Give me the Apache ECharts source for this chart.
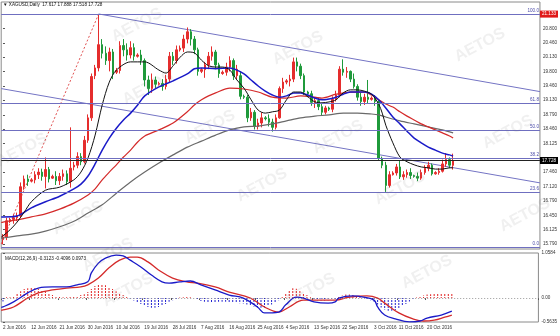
<!DOCTYPE html>
<html><head><meta charset="utf-8">
<script src="https://cdn.jsdelivr.net/npm/echarts@6/dist/echarts.min.js"></script>
<style>html,body{margin:0;padding:0;background:#fff}#c{width:560px;height:336px}</style>
</head><body><div id="c"></div>
<script>
// ---- data ----
const monthDays = {
  Jun:[2,3,5,6,7,8,9,10,12,13,14,15,16,17,19,20,21,22,23,24,26,27,28,29,30],
  Jul:[1,3,4,5,6,7,8,10,11,12,13,14,15,17,18,19,20,21,22,24,25,26,27,28,29,31],
  Aug:[1,2,3,4,5,7,8,9,10,11,12,14,15,16,17,18,19,21,22,23,24,25,26,28,29,30,31],
  Sep:[1,2,4,5,6,7,8,9,11,12,13,14,15,16,18,19,20,21,22,23,25,26,27,28,29,30],
  Oct:[2,3,4,5,6,7,9,10,11,12,13,14,16,17,18,19,20,21,23,24,25,26,27,28]
};
const labelDates = ['2 Jun 2016','12 Jun 2016','21 Jun 2016','30 Jun 2016','10 Jul 2016','19 Jul 2016','28 Jul 2016','7 Aug 2016','16 Aug 2016','25 Aug 2016','4 Sep 2016','13 Sep 2016','22 Sep 2016','3 Oct 2016','11 Oct 2016','20 Oct 2016'];
// [open, close, low, high]
const ohlc = [
[15.90,15.95,15.78,16.02],[15.95,16.33,15.88,16.40],[16.32,16.36,16.28,16.40],[16.36,16.40,16.26,16.48],[16.40,16.44,16.32,16.52],
[16.44,17.12,16.40,17.22],[17.12,17.30,17.05,17.38],[17.30,17.24,17.14,17.40],[17.25,17.28,17.22,17.32],[17.28,17.40,17.20,17.48],
[17.40,17.46,17.30,17.55],[17.46,17.36,17.26,17.54],[17.36,17.52,17.08,17.80],[17.52,17.30,17.22,17.58],[17.32,17.36,17.30,17.40],
[17.36,17.26,17.16,17.48],[17.26,17.36,17.16,17.44],[17.36,17.42,17.26,17.52],[17.42,17.24,17.16,17.50],[17.24,17.55,17.10,18.50],
[17.58,17.62,17.50,17.70],[17.62,17.82,17.55,17.92],[17.82,17.70,17.62,17.90],[17.70,18.20,17.66,18.30],[18.20,18.72,18.14,18.80],
[18.72,19.68,18.65,19.75],[19.70,19.88,19.62,19.95],[19.88,20.42,19.80,21.13],[20.42,20.22,20.10,20.55],[20.22,20.05,19.95,20.38],
[20.05,20.25,19.80,20.35],[20.25,19.75,19.62,20.32],[19.78,19.82,19.74,19.88],[19.82,20.40,19.75,20.50],[20.40,20.30,20.15,20.55],
[20.30,20.18,20.05,20.45],[20.18,20.35,20.10,20.50],[20.35,20.15,20.05,20.45],[20.15,20.18,20.12,20.22],[20.18,20.05,19.95,20.30],
[20.05,19.60,19.45,20.10],[19.60,19.40,19.25,19.70],[19.40,19.60,19.30,19.75],[19.60,19.50,19.40,19.68],[19.50,19.52,19.47,19.56],
[19.52,19.45,19.35,19.62],[19.45,19.62,19.38,19.72],[19.62,20.15,19.55,20.25],[20.15,20.05,19.95,20.25],[20.05,20.30,19.98,20.40],
[20.30,20.34,20.26,20.40],[20.34,20.55,20.25,20.65],[20.55,20.72,20.45,20.82],[20.72,20.55,20.40,20.78],[20.55,20.30,20.20,20.62],
[20.30,19.80,19.70,20.35],[19.80,19.84,19.76,19.88],[19.84,19.95,19.65,20.02],[19.95,20.15,19.85,20.25],[20.15,20.25,20.05,20.38],
[20.25,19.95,19.85,20.30],[19.95,19.75,19.65,20.00],[19.75,19.78,19.72,19.82],[19.78,19.90,19.70,20.00],[19.90,20.05,19.80,20.15],
[20.05,19.70,19.60,20.10],[19.70,19.85,19.62,19.95],[19.70,19.22,19.15,19.80],[19.22,19.20,19.16,19.26],[19.20,18.72,18.62,19.25],
[18.72,18.85,18.65,18.95],[18.85,18.52,18.45,18.90],[18.52,18.60,18.45,18.70],[18.60,18.72,18.50,18.85],[18.72,18.70,18.66,18.76],
[18.70,18.62,18.52,18.80],[18.62,18.50,18.40,18.70],[18.50,18.72,18.45,18.80],[18.72,19.40,18.70,19.45],[19.40,19.55,19.30,19.65],
[19.55,19.58,19.50,19.62],[19.58,19.62,19.45,19.72],[19.62,20.02,19.55,20.12],[20.02,19.92,19.80,20.12],[19.92,19.70,19.62,19.98],
[19.70,19.32,19.25,19.75],[19.32,19.28,19.20,19.35],[19.28,19.08,19.00,19.35],[19.08,19.12,18.95,19.20],[19.12,18.98,18.90,19.18],
[18.98,18.85,18.78,19.05],[18.85,18.95,18.80,19.00],[18.95,18.92,18.88,18.98],[18.92,19.15,18.85,19.22],[19.15,19.25,19.10,19.35],
[19.25,19.85,19.20,19.92],[19.85,19.78,19.70,20.08],[19.78,19.80,19.65,19.90],[19.80,19.62,19.55,19.82],[19.62,19.45,19.40,19.75],
[19.45,19.20,19.12,19.50],[19.20,19.10,19.00,19.30],[19.10,19.20,19.02,19.28],[19.20,19.15,19.05,19.60],[19.15,19.18,19.12,19.22],
[19.18,19.10,19.00,19.25],[19.10,17.78,17.72,19.15],[17.78,17.62,17.55,17.82],[17.62,17.15,17.00,17.70],[17.15,17.40,17.10,17.48],
[17.40,17.44,17.38,17.48],[17.44,17.58,17.38,17.65],[17.58,17.35,17.30,17.72],[17.35,17.40,17.28,17.48],[17.40,17.45,17.33,17.52],
[17.45,17.38,17.30,17.55],[17.38,17.36,17.33,17.40],[17.36,17.32,17.25,17.45],[17.32,17.45,17.28,17.52],[17.45,17.55,17.40,17.62],
[17.55,17.62,17.48,17.70],[17.62,17.42,17.38,17.66],[17.42,17.45,17.40,17.48],[17.45,17.48,17.40,17.55],[17.48,17.65,17.45,17.75],
[17.65,17.75,17.58,17.90],[17.75,17.62,17.55,17.80],[17.617,17.728,17.518,17.888]
];
// moving averages: [bar index, price]
const maBlack = [[-0.5,15.95],[0,15.98],[2,16.12],[4,16.30],[6,16.53],[8,16.77],[12,17.04],[16,17.11],[20,17.28],[22,17.46],[24,17.79],[26,18.32],[28,19.02],[30,19.55],[32,19.83],[36,20.02],[40,20.02],[44,19.83],[46,19.76],[48,19.93],[50,20.13],[52,20.25],[54,20.23],[56,20.06],[58,19.93],[60,19.90],[62,19.90],[64,19.83],[66,19.60],[68,19.41],[70,19.14],[72,18.90],[74,18.83],[76,18.86],[78,18.90],[80,19.14],[82,19.32],[84,19.32],[86,19.21],[88,19.09],[90,19.07],[92,19.09],[94,19.14],[96,19.30],[98,19.37],[100,19.37],[102,19.34],[104,19.27],[106,19.04],[107,18.83],[108,18.55],[110,18.14],[112,17.81],[114,17.70],[116,17.63],[118,17.58],[120,17.56],[122,17.53],[124,17.53],[126,17.56],[127,17.56]];
const maBlue = [[-0.5,16.42],[0,16.42],[4,16.44],[8,16.63],[12,16.77],[16,16.90],[20,17.07],[22,17.18],[24,17.37],[26,17.65],[28,17.97],[30,18.25],[32,18.48],[34,18.67],[36,18.83],[38,19.02],[40,19.23],[44,19.44],[48,19.58],[52,19.74],[54,19.86],[56,19.88],[60,19.86],[64,19.88],[66,19.83],[68,19.74],[70,19.60],[72,19.46],[74,19.34],[76,19.25],[78,19.20],[80,19.23],[82,19.30],[84,19.30],[86,19.25],[88,19.18],[90,19.14],[92,19.16],[94,19.20],[96,19.27],[98,19.32],[100,19.32],[102,19.32],[104,19.27],[106,19.14],[108,18.95],[110,18.74],[112,18.58],[114,18.41],[116,18.25],[118,18.14],[120,18.04],[122,17.97],[124,17.90],[126,17.86],[127,17.83]];
const maRed = [[-0.5,16.29],[0,16.30],[4,16.35],[8,16.42],[12,16.49],[16,16.60],[20,16.74],[24,16.93],[26,17.07],[28,17.28],[30,17.46],[32,17.63],[34,17.81],[36,17.97],[38,18.16],[40,18.30],[44,18.44],[48,18.60],[52,18.86],[54,19.02],[56,19.14],[58,19.23],[60,19.30],[64,19.41],[68,19.39],[72,19.32],[76,19.20],[80,19.18],[84,19.23],[88,19.20],[90,19.18],[94,19.27],[98,19.32],[102,19.32],[104,19.25],[106,19.14],[108,19.04],[110,18.97],[112,18.86],[114,18.76],[116,18.67],[118,18.58],[120,18.51],[122,18.44],[124,18.37],[126,18.30],[127,18.25]];
const maGray = [[-0.5,15.92],[0,15.93],[4,15.98],[8,16.02],[12,16.09],[16,16.19],[20,16.32],[24,16.51],[28,16.70],[32,16.97],[36,17.23],[40,17.46],[44,17.67],[48,17.86],[52,18.04],[56,18.18],[60,18.32],[64,18.44],[68,18.51],[72,18.53],[76,18.58],[80,18.65],[84,18.72],[88,18.76],[92,18.79],[96,18.83],[100,18.83],[104,18.81],[106,18.79],[108,18.74],[112,18.65],[116,18.58],[120,18.51],[124,18.44],[127,18.37]];
// MACD
const macdMain = [[-0.5,-0.22],[0,-0.21],[3,-0.09],[7,0.12],[10,0.235],[14,0.26],[18,0.26],[21,0.31],[24,0.38],[25,0.59],[27,0.82],[29,0.94],[32,1.01],[34,0.99],[36,0.89],[39,0.73],[42,0.54],[45,0.38],[47,0.35],[50,0.38],[53,0.40],[56,0.31],[60,0.19],[64,0.07],[68,0.0],[72,-0.21],[74,-0.35],[78,-0.33],[80,-0.16],[83,0.02],[85,0.0],[88,-0.09],[92,-0.12],[94,-0.09],[95,0.0],[99,0.05],[102,0.02],[105,-0.05],[106,-0.21],[108,-0.40],[111,-0.49],[115,-0.56],[118,-0.54],[120,-0.47],[124,-0.40],[127,-0.31]];
const macdSignal = [[-0.5,-0.29],[0,-0.28],[3,-0.21],[7,0.0],[10,0.12],[14,0.19],[18,0.235],[22,0.26],[24,0.31],[27,0.47],[30,0.71],[33,0.89],[36,0.96],[38,0.96],[41,0.85],[44,0.66],[48,0.47],[52,0.38],[55,0.35],[60,0.26],[64,0.14],[70,0.0],[74,-0.21],[78,-0.33],[81,-0.21],[85,-0.05],[89,-0.05],[94,-0.05],[98,0.02],[103,0.05],[106,0.0],[108,-0.12],[112,-0.35],[116,-0.49],[119,-0.54],[122,-0.52],[125,-0.45],[127,-0.40]];
const macdHist = [-0.08,0.02,0.02,0.05,0.12,0.16,0.21,0.23,0.24,0.23,0.21,0.18,0.16,0.12,0.07,0.04,0.03,0.02,0.02,0.03,
0.03,0.05,0.07,0.09,0.14,0.21,0.28,0.33,0.33,0.30,0.26,0.21,0.16,0.12,0.07,0.03,-0.02,-0.06,-0.10,-0.14,
-0.17,-0.21,-0.23,-0.23,-0.21,-0.18,-0.14,-0.09,-0.05,-0.02,0.01,0.02,0.03,0.02,0.00,-0.03,-0.07,-0.09,-0.10,-0.10,
-0.10,-0.09,-0.09,-0.09,-0.10,-0.10,-0.11,-0.12,-0.13,-0.15,-0.17,-0.20,-0.22,-0.23,-0.22,-0.19,-0.15,-0.10,-0.05,0.05,
0.12,0.19,0.23,0.22,0.18,0.12,0.07,0.02,-0.03,-0.05,-0.06,-0.06,-0.05,-0.04,-0.02,0.03,0.06,0.08,0.08,0.07,
0.05,0.03,0.00,-0.02,-0.05,-0.09,-0.15,-0.22,-0.27,-0.30,-0.30,-0.28,-0.24,-0.19,-0.14,-0.08,-0.04,0.01,0.04,0.06,
0.08,0.09,0.10,0.11,0.11,0.11,0.11,0.10];
// Fibonacci retracement
const fibLow = 15.72, fibHigh = 21.133;
const fibLevels = [0, 23.6, 38.2, 50, 61.8, 100];
// trend lines [bar index, price]
const channelUpper = [[27,21.133],[151.5,19.33]];
const channelLower = [[-0.5,19.40],[151.5,17.21]];
const fibTrend = [[-0.5,15.79],[27,21.133]];
// axis tick labels
const priceTicks = ['15.790','16.125','16.450','16.790','17.120','17.460','18.125','18.460','18.790','19.130','19.460','19.800','20.130','20.460','20.800'];
const macdTicks = ['-0.5635','0.00','1.0584'];
const lastPrice = 17.728;
const title = '\u25BC XAGUSD,Daily  17.617 17.888 17.518 17.728';
const macdTitle = 'MACD(12,26,9) -0.3123 -0.4096 0.0973';

// ---- build ----
const N = 152;
const dates = [];
Object.keys(monthDays).forEach(m => monthDays[m].forEach(d => dates.push(d + ' ' + m + ' 2016')));
const cats = dates.slice();
while (cats.length < N) cats.push('');
const FONT = 'Liberation Sans';
const FS = 4.6;
const showLbl = (i, v) => labelDates.indexOf(v) >= 0;
const RED = '#e02020', BLUE = '#2020d0';
const histData = macdHist.map(v => ({value: v, itemStyle: {color: 'rgba(0,0,0,0)',
  decal: {symbol: 'rect', color: v >= 0 ? RED : BLUE, dashArrayX: [1, 0], dashArrayY: [2, 1], symbolSize: 1, rotation: 0}}}));

const wm = [[137,25],[148,88],[210,127],[298,48],[338,137],[22,150],[78,218],[108,255],[128,290],[262,185],[427,272],[310,290],[508,132],[525,215],[400,188],[480,45]];

const option = {
  animation: false,
  textStyle: {fontFamily: FONT},
  grid: [
    {left: 1.2, right: 16.6, top: 2, height: 247, show: true, borderColor: '#8a8a8a', borderWidth: 1},
    {left: 1.2, right: 16.6, top: 253, height: 69, show: true, borderColor: '#8a8a8a', borderWidth: 1}
  ],
  xAxis: [
    {type: 'category', gridIndex: 0, data: cats, boundaryGap: true, axisLine: {show: false}, axisTick: {show: false}, axisLabel: {show: false}, splitLine: {show: false}},
    {type: 'category', gridIndex: 1, data: cats, boundaryGap: true, axisLine: {show: false},
      axisTick: {show: true, interval: showLbl, length: 2, lineStyle: {color: '#555'}},
      axisLabel: {show: true, interval: showLbl, showMinLabel: true, hideOverlap: false, align: 'left', fontSize: FS, color: '#333', margin: 3, fontFamily: FONT}, splitLine: {show: false}},
    {type: 'value', gridIndex: 0, min: -0.5, max: N - 0.5, show: false},
    {type: 'value', gridIndex: 1, min: -0.5, max: N - 0.5, show: false}
  ],
  yAxis: [
    {type: 'value', gridIndex: 0, position: 'right', min: 15.674, max: 21.411, scale: true,
      axisLine: {show: false}, splitLine: {show: false},
      axisTick: {show: true, length: 2, customValues: priceTicks.map(Number), lineStyle: {color: '#555'}},
      axisLabel: {show: true, customValues: priceTicks.map(Number), formatter: v => v.toFixed(3), fontSize: FS, color: '#333', margin: 3, fontFamily: FONT}},
    {type: 'value', gridIndex: 1, position: 'right', min: -0.5635, max: 1.0584,
      axisLine: {show: false}, splitLine: {show: false},
      axisTick: {show: true, length: 2, customValues: macdTicks.map(Number), lineStyle: {color: '#555'}},
      axisLabel: {show: true, customValues: macdTicks.map(Number), formatter: v => macdTicks[macdTicks.map(Number).indexOf(v)] || v, fontSize: FS, color: '#333', margin: 3, fontFamily: FONT}}
  ],
  graphic: [
    {type: 'text', left: 3, top: 2, z: 50, style: {text: title, fontSize: FS, fill: '#111', fontFamily: FONT}},
    {type: 'text', left: 5, top: 256, z: 50, style: {text: macdTitle, fontSize: FS, fill: '#111', fontFamily: FONT}}
  ].concat(wm.map(p => ({type: 'text', x: p[0], y: p[1], rotation: Math.PI / 6.5, z: 60, silent: true,
      style: {text: 'AETOS', fontSize: 16, fontWeight: 'bold', fill: 'rgba(110,110,110,0.10)', textAlign: 'center', textVerticalAlign: 'middle', fontFamily: FONT}}))),
  series: [
    {type: 'line', xAxisIndex: 2, yAxisIndex: 0, data: [], silent: true,
      markLine: {symbol: 'none', silent: true, animation: false,
        lineStyle: {color: '#6f6fc0', width: 1, type: 'solid'},
        label: {position: 'insideEndTop', formatter: '{b}', fontSize: FS, color: '#4b4ba8', distance: 1, fontFamily: FONT},
        data: fibLevels.map(l => ({name: l.toFixed(1), yAxis: fibLow + (fibHigh - fibLow) * l / 100}))}},
    {type: 'line', xAxisIndex: 2, yAxisIndex: 0, data: channelUpper, symbol: 'none', lineStyle: {color: '#7474c4', width: 1}, z: 2},
    {type: 'line', xAxisIndex: 2, yAxisIndex: 0, data: channelLower, symbol: 'none', lineStyle: {color: '#7474c4', width: 1}, z: 2},
    {type: 'line', xAxisIndex: 2, yAxisIndex: 0, data: fibTrend, symbol: 'none', lineStyle: {color: '#e05050', width: 1, type: [2, 2]}, z: 2},
    {type: 'candlestick', xAxisIndex: 0, yAxisIndex: 0, data: ohlc, barWidth: 2, z: 3,
      itemStyle: {color: '#e52d2d', color0: '#1f9a3b', borderColor: '#e52d2d', borderColor0: '#1f9a3b', borderWidth: 1},
      markLine: {symbol: 'none', silent: true, animation: false,
        data: [
          {yAxis: lastPrice, lineStyle: {color: '#222', width: 1, type: 'solid'},
           label: {position: 'end', formatter: lastPrice.toFixed(3), backgroundColor: '#000', color: '#fff', fontSize: FS, padding: [1, 2], distance: 0, fontFamily: FONT}},
          {yAxis: fibHigh, lineStyle: {color: 'rgba(0,0,0,0)', width: 0},
           label: {position: 'end', formatter: fibHigh.toFixed(3), backgroundColor: '#e01818', color: '#fff', fontSize: FS, padding: [1, 2], distance: 0, fontFamily: FONT}}
        ]}},
    {type: 'line', xAxisIndex: 2, yAxisIndex: 0, data: maGray, symbol: 'none', smooth: 0.3, lineStyle: {color: '#6a6a6a', width: 1.2}, z: 4},
    {type: 'line', xAxisIndex: 2, yAxisIndex: 0, data: maRed, symbol: 'none', smooth: 0.3, lineStyle: {color: '#d42a2a', width: 1.2}, z: 4},
    {type: 'line', xAxisIndex: 2, yAxisIndex: 0, data: maBlue, symbol: 'none', smooth: 0.3, lineStyle: {color: '#1a1ac8', width: 1.5}, z: 4},
    {type: 'line', xAxisIndex: 2, yAxisIndex: 0, data: maBlack, symbol: 'none', smooth: 0.3, lineStyle: {color: '#111', width: 1}, z: 4},
    {type: 'bar', xAxisIndex: 1, yAxisIndex: 1, data: histData, barWidth: 1,
      markLine: {symbol: 'none', silent: true, animation: false, label: {show: false},
        lineStyle: {color: '#999', width: 1, type: [1, 2]}, data: [{yAxis: 0}]}},
    {type: 'line', xAxisIndex: 3, yAxisIndex: 1, data: macdSignal, symbol: 'none', smooth: 0.4, lineStyle: {color: '#d42a2a', width: 1.3}, z: 4},
    {type: 'line', xAxisIndex: 3, yAxisIndex: 1, data: macdMain, symbol: 'none', smooth: 0.4, lineStyle: {color: '#1a1ac8', width: 1.3}, z: 5}
  ]
};
const chart = echarts.init(document.getElementById('c'));
chart.setOption(option);
</script>
</body></html>
